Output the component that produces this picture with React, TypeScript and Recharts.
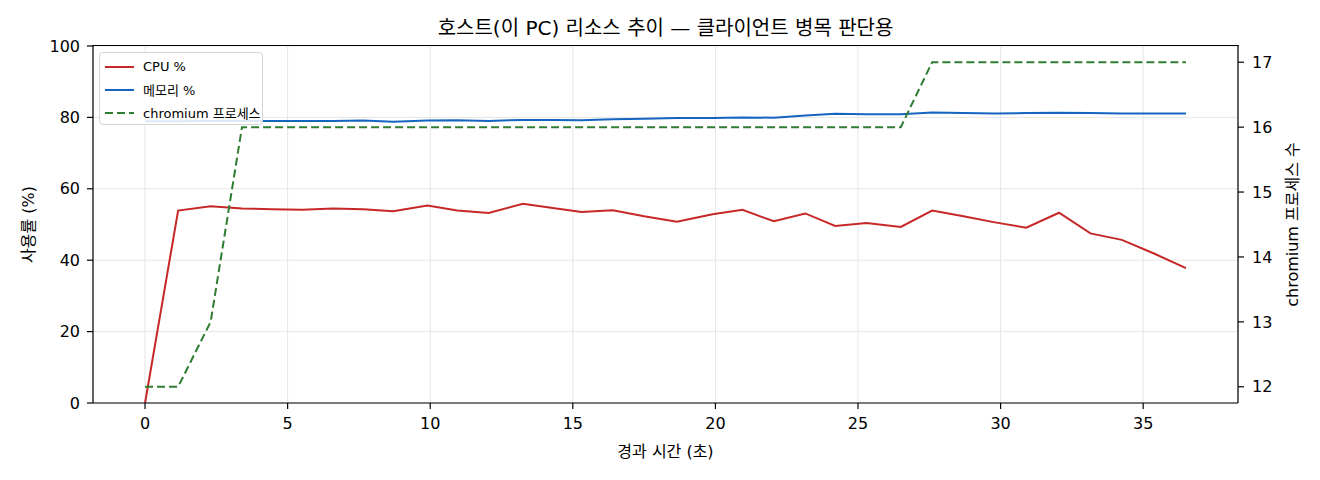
import {
  LineChart, Line,
  XAxis, YAxis,
  CartesianGrid, Legend, Label,
} from "recharts";

// ─── Sample data (elapsed seconds) ───────────────────────
const times = [
  0, 1.16, 2.3, 3.4, 4.45, 5.5, 6.6, 7.65, 8.7, 9.9,
  10.95, 12.05, 13.25, 14.3, 15.3, 16.4, 17.5, 18.65, 19.9, 20.95,
  22.05, 23.15, 24.2, 25.3, 26.5, 27.6, 28.7, 29.8, 30.9, 32.05,
  33.15, 34.25, 35.4, 36.5,
];

const cpuPct = [
  0, 53.9, 55.1, 54.5, 54.3, 54.1, 54.5, 54.3, 53.7, 55.3,
  53.9, 53.2, 55.8, 54.6, 53.5, 54.0, 52.3, 50.8, 52.9, 54.1,
  50.9, 53.1, 49.6, 50.4, 49.3, 53.9, 52.3, 50.6, 49.1, 53.3,
  47.5, 45.7, 41.8, 37.8,
];

const memPct = [
  78.9, 78.9, 79.0, 79.0, 79.0, 79.0, 79.0, 79.1, 78.8, 79.1,
  79.2, 79.0, 79.3, 79.3, 79.2, 79.5, 79.6, 79.8, 79.8, 80.0,
  79.9, 80.5, 81.0, 80.9, 80.9, 81.4, 81.2, 81.1, 81.2, 81.3,
  81.2, 81.1, 81.1, 81.1,
];

const chromiumProcs = [
  12, 12, 13, 16, 16, 16, 16, 16, 16, 16,
  16, 16, 16, 16, 16, 16, 16, 16, 16, 16,
  16, 16, 16, 16, 16, 17, 17, 17, 17, 17,
  17, 17, 17, 17,
];

// ─── Axis ticks ───────────────────────────────────────────
const xTicks = [0, 5, 10, 15, 20, 25, 30, 35];
const pctTicks = [0, 20, 40, 60, 80, 100];
const procTicks = [12, 13, 14, 15, 16, 17];

const X_DOMAIN = [-1.825, 38.325];
const PCT_DOMAIN = [0, 100];

const data = times.map((t, i) => ({
  t,
  cpu: cpuPct[i],
  mem: memPct[i],
  procs: chromiumProcs[i],
}));

const RED = "#c62828";
const BLUE = "#1565c0";
const GREEN = "#2e7d32";
const FONT = "'DejaVu Sans', 'Noto Sans CJK KR', sans-serif";

const MARGIN = { top: 46, right: 32, bottom: 47, left: 43 };
const AXIS_W = 50;

const tickStyle = { fontSize: 16, fill: "#000", fontFamily: FONT };
const spine = { stroke: "#000", strokeWidth: 1.2 };

const legendRows = [
  { label: "CPU %", color: RED, dash: undefined as string | undefined },
  { label: "메모리 %", color: BLUE, dash: undefined as string | undefined },
  { label: "chromium 프로세스", color: GREEN, dash: "8 4" },
];

function renderLegend() {
  return (
    <div
      style={{
        boxSizing: "border-box",
        width: 164,
        height: 73,
        padding: "2px 0 0 5px",
        background: "rgba(255,255,255,0.85)",
        border: "1px solid #d4d4d4",
        borderRadius: 4,
        fontFamily: FONT,
        fontSize: 13,
        color: "#000",
      }}
    >
      {legendRows.map((row) => (
        <div key={row.label} style={{ display: "flex", alignItems: "center", height: 23 }}>
          <svg width={29} height={10} style={{ flexShrink: 0 }}>
            <line x1={0} y1={5} x2={29} y2={5} stroke={row.color} strokeWidth={2} strokeDasharray={row.dash} />
          </svg>
          <span style={{ marginLeft: 9, whiteSpace: "nowrap" }}>{row.label}</span>
        </div>
      ))}
    </div>
  );
}

export default function App() {
  const plotLeft = MARGIN.left + AXIS_W;
  const plotWidth = 1320 - plotLeft - MARGIN.right - AXIS_W;
  return (
    <div style={{ position: "absolute", left: 0, top: 0, width: 1320, height: 480, background: "#fff" }}>
      <div
        style={{
          position: "absolute",
          left: plotLeft,
          width: plotWidth,
          top: 14,
          textAlign: "center",
          fontFamily: FONT,
          fontSize: 20,
          color: "#000",
          lineHeight: "28px",
        }}
      >
        호스트(이 PC) 리소스 추이 — 클라이언트 병목 판단용
      </div>
      <LineChart
        width={1320}
        height={480}
        data={data}
        margin={MARGIN}
      >
        <CartesianGrid stroke="#e6e6e6" strokeWidth={1} />
        <XAxis
          dataKey="t"
          type="number"
          domain={X_DOMAIN}
          ticks={xTicks}
          allowDataOverflow
          height={30}
          tick={tickStyle}
          tickSize={6}
          tickMargin={9}
          axisLine={spine}
          tickLine={spine}
        >
          <Label
            content={({ viewBox }: any) => (
              <text
                x={viewBox.x + viewBox.width / 2}
                y={viewBox.y + 54}
                textAnchor="middle"
                fontSize={16}
                fontFamily={FONT}
                fill="#000"
              >
                경과 시간 (초)
              </text>
            )}
          />
        </XAxis>
        <YAxis
          type="number"
          domain={PCT_DOMAIN}
          ticks={pctTicks}
          width={AXIS_W}
          tick={tickStyle}
          tickSize={6}
          tickMargin={7}
          axisLine={spine}
          tickLine={spine}
        >
          <Label
            content={({ viewBox }: any) => {
              const x = viewBox.x - 15;
              const y = viewBox.y + viewBox.height / 2;
              return (
                <text
                  x={x}
                  y={y}
                  transform={`rotate(-90 ${x} ${y})`}
                  textAnchor="middle"
                  dominantBaseline="central"
                  fontSize={16}
                  fontFamily={FONT}
                  fill="#000"
                >
                  사용률 (%)
                </text>
              );
            }}
          />
        </YAxis>
        <YAxis
          yAxisId="right"
          orientation="right"
          type="number"
          domain={[11.75, 17.25]}
          ticks={procTicks}
          allowDataOverflow
          width={AXIS_W}
          tick={tickStyle}
          tickSize={6}
          tickMargin={8}
          axisLine={spine}
          tickLine={spine}
        >
          <Label
            content={({ viewBox }: any) => {
              const x = viewBox.x + 54;
              const y = viewBox.y + viewBox.height / 2;
              return (
                <text
                  x={x}
                  y={y}
                  transform={`rotate(-90 ${x} ${y})`}
                  textAnchor="middle"
                  dominantBaseline="central"
                  fontSize={16}
                  fontFamily={FONT}
                  fill="#000"
                >
                  chromium 프로세스 수
                </text>
              );
            }}
          />
        </YAxis>
        <Legend
          layout="horizontal"
          verticalAlign="middle"
          align="center"
          content={renderLegend}
          wrapperStyle={{ left: 99, top: 52, width: 164, height: 73 }}
        />
        <Line
          dataKey="cpu"
          type="linear"
          stroke={RED}
          strokeWidth={2}
          dot={false}
          isAnimationActive={false}
        />
        <Line
          dataKey="mem"
          type="linear"
          stroke={BLUE}
          strokeWidth={2}
          dot={false}
          isAnimationActive={false}
        />
        <Line
          dataKey="procs"
          yAxisId="right"
          type="linear"
          stroke={GREEN}
          strokeWidth={2}
          strokeDasharray="8 4"
          dot={false}
          isAnimationActive={false}
        />
      </LineChart>
      {/* top spine of the axes frame */}
      <div
        style={{
          position: "absolute",
          left: plotLeft - 0.6,
          top: MARGIN.top - 0.6,
          width: plotWidth + 1.2,
          height: 0,
          borderTop: "1.2px solid #000",
          pointerEvents: "none",
        }}
      />
    </div>
  );
}
